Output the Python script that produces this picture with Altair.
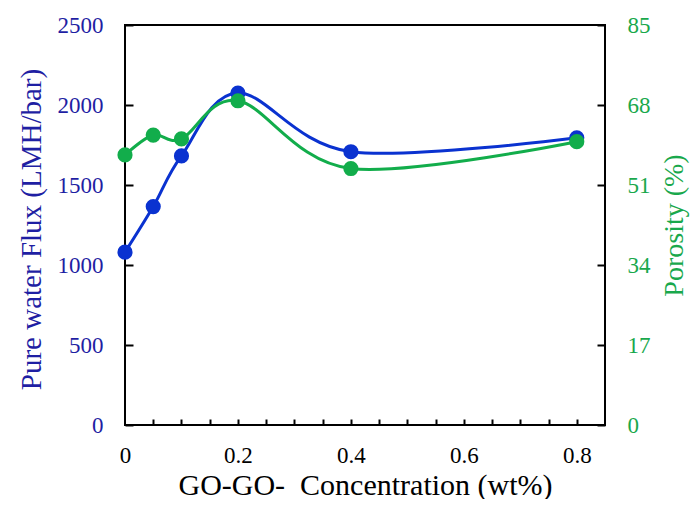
import altair as alt
import pandas as pd

# values
conc = [0, 0.05, 0.1, 0.2, 0.4, 0.8]
flux = [1080, 1365, 1682, 2075, 1708, 1795]
porosity = [57.4, 61.6, 60.8, 68.9, 54.5, 60.2]

flux_ticks = [0, 500, 1000, 1500, 2000, 2500]
porosity_ticks = [0, 17, 34, 51, 68, 85]
x_labels = [0, 0.2, 0.4, 0.6, 0.8]
x_minor = [0.05, 0.1, 0.15, 0.2, 0.25, 0.3, 0.35, 0.4, 0.45, 0.5,
           0.55, 0.6, 0.65, 0.7, 0.75, 0.8]

BLUE = '#0a32d0'
BLUE_TEXT = '#1f1fa3'
GREEN = '#12ad4b'
GREEN_TEXT = '#19a84c'
FONT = 'Liberation Serif'

df = pd.DataFrame({'conc': conc, 'flux': flux, 'porosity': porosity})

x_scale = alt.Scale(domain=[0, 0.85], nice=False)
flux_scale = alt.Scale(domain=[0, 2500], nice=False)
por_scale = alt.Scale(domain=[0, 85], nice=False)

base = alt.Chart(df)

x_main = alt.X('conc:Q', scale=x_scale, axis=alt.Axis(
    orient='bottom', values=x_labels, format='~g', ticks=False, tickSize=0,
    domain=False, grid=False, labelFlush=False,
    labelFont=FONT, labelFontSize=23, labelColor='black', labelPadding=19,
    title='GO-GO-\u00a0 Concentration (wt%)', titleFont=FONT, titleFontSize=30,
    titleFontWeight='normal', titleColor='black', titleY=69,
    titleBaseline='alphabetic'))
x_none = alt.X('conc:Q', scale=x_scale, axis=None)

blue_line = base.mark_line(color=BLUE, strokeWidth=3, interpolate='cardinal').encode(
    x=x_main,
    y=alt.Y('flux:Q', scale=flux_scale, axis=alt.Axis(
        orient='left', values=flux_ticks, format='d', ticks=False, tickSize=0,
        domain=False, grid=False, labelFlush=False, labelFont=FONT, labelFontSize=23,
        labelColor=BLUE_TEXT, labelPadding=22, title='Pure water Flux (LMH/bar)',
        titleFont=FONT, titleFontSize=29, titleFontWeight='normal',
        titleColor=BLUE_TEXT, titleAngle=270, titleX=-85, titleY=204,
        titleBaseline='alphabetic', titleAlign='center'))
)
blue_pts = base.mark_circle(color=BLUE, size=230, opacity=1).encode(
    x=x_none,
    y=alt.Y('flux:Q', scale=flux_scale, axis=None)
)

green_line = base.mark_line(color=GREEN, strokeWidth=3, interpolate='cardinal').encode(
    x=x_none,
    y=alt.Y('porosity:Q', scale=por_scale, axis=alt.Axis(
        orient='right', values=porosity_ticks, format='d', ticks=False, tickSize=0,
        domain=False, grid=False, labelFlush=False, labelFont=FONT, labelFontSize=23,
        labelColor=GREEN_TEXT, labelPadding=22, title='Porosity (%)', titleFont=FONT,
        titleFontSize=28, titleFontWeight='normal', titleColor=GREEN_TEXT,
        titleAngle=270, titleX=77, titleY=200, titleBaseline='alphabetic',
        titleAlign='center'))
)
green_pts = base.mark_circle(color=GREEN, size=230, opacity=1).encode(
    x=x_none,
    y=alt.Y('porosity:Q', scale=por_scale, axis=None)
)

# inward ticks: axes shifted inside the frame, ticks only
tick_style = dict(labels=False, domain=False, grid=False, title=None,
                  tickColor='black', tickWidth=2)
left_ticks = base.mark_line(opacity=0).encode(
    x=alt.X('conc:Q', scale=x_scale, axis=alt.Axis(
        orient='bottom', values=x_minor, offset=-6, tickSize=6, **tick_style)),
    y=alt.Y('flux:Q', scale=flux_scale, axis=alt.Axis(
        orient='left', values=flux_ticks, offset=-8, tickSize=8, **tick_style))
)
right_ticks = base.mark_line(opacity=0).encode(
    x=x_none,
    y=alt.Y('porosity:Q', scale=por_scale, axis=alt.Axis(
        orient='right', values=porosity_ticks, offset=-8, tickSize=8, **tick_style))
)

chart = alt.layer(
    left_ticks, right_ticks, blue_line, blue_pts, green_line, green_pts
).resolve_scale(
    x='independent', y='independent'
).properties(
    width=480, height=400,
    autosize=alt.AutoSizeParams(type='none'),
    padding={'left': 117, 'top': 17, 'right': 86, 'bottom': 74},
    background='white'
).configure_view(
    stroke='black', strokeWidth=2
)

chart.save("out.html", embed_options={"renderer": "svg", "actions": False})
